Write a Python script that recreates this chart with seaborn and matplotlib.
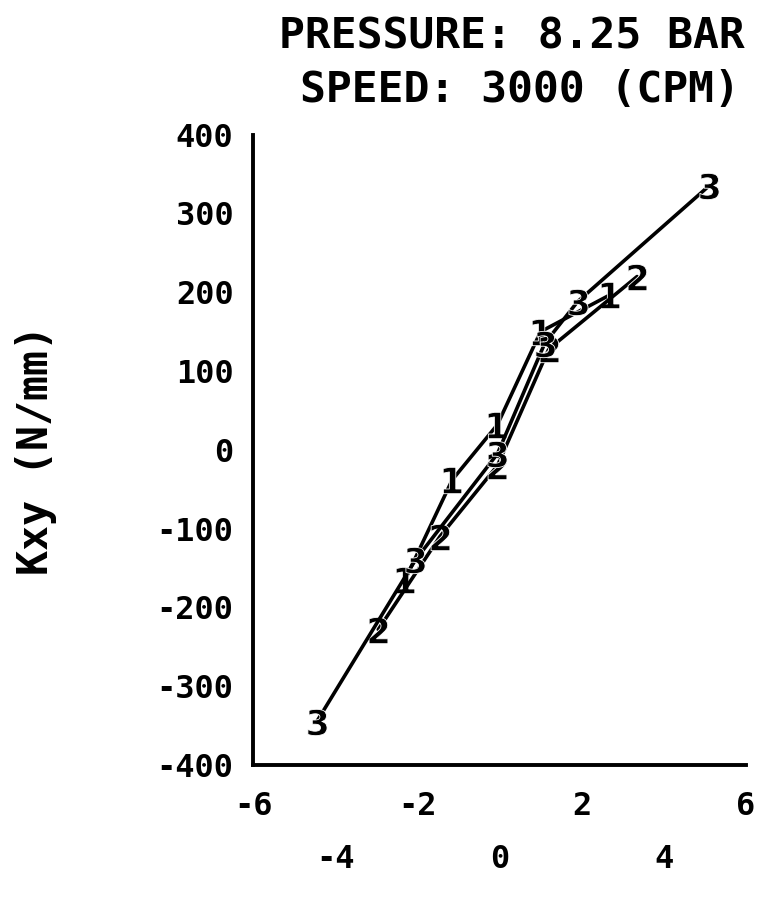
import pandas as pd
import numpy as np
import matplotlib
matplotlib.use('Agg')
import matplotlib.pyplot as plt
import seaborn as sns

# Data (x unit unknown, Kxy in N/mm)
x1 = [-2.3, -1.15, -0.05, 1.0, 2.7]
y1 = [-165, -38, 32, 150, 197]
x2 = [-2.95, -1.45, -0.05, 1.2, 3.35]
y2 = [-228, -110, -20, 128, 220]
x3 = [-4.45, -2.05, -0.05, 1.1, 1.9, 5.1]
y3 = [-345, -140, -5, 135, 188, 335]

xticks_top = [-6, -2, 2, 6]
xticks_bottom = [-4, 0, 4]
yticks = [-400, -300, -200, -100, 0, 100, 200, 300, 400]

title_lines = ['PRESSURE: 8.25 BAR', 'SPEED: 3000 (CPM)']
ylabel = 'Kxy (N/mm)'

df = pd.concat([
    pd.DataFrame({'x': x1, 'y': y1, 'series': '1'}),
    pd.DataFrame({'x': x2, 'y': y2, 'series': '2'}),
    pd.DataFrame({'x': x3, 'y': y3, 'series': '3'}),
], ignore_index=True)

sns.set_style('white')
plt.rcParams['font.family'] = ['DejaVu Sans Mono']
plt.rcParams['font.weight'] = 'bold'
plt.rcParams['text.color'] = 'black'
plt.rcParams['axes.labelcolor'] = 'black'
plt.rcParams['xtick.color'] = 'black'
plt.rcParams['ytick.color'] = 'black'

fig = plt.figure(figsize=(7.69, 8.98), dpi=100)
ax = fig.add_axes([0.329, 0.148, 0.641, 0.702])

sns.lineplot(data=df, x='x', y='y', hue='series', style='series',
             markers={'1': '$1$', '2': '$2$', '3': '$3$'}, dashes=False,
             palette=['black', 'black', 'black'], sort=False, estimator=None,
             legend=False, linewidth=2.6, markersize=19, markeredgewidth=0.6,
             ax=ax)

ax.set_xlim(-6, 6)
ax.set_ylim(-400, 400)
ax.set_xticks(xticks_top)
ax.set_xticklabels([str(v) for v in xticks_top])
ax.set_xticks(xticks_bottom, minor=True)
ax.set_xticklabels([str(v) for v in xticks_bottom], minor=True)
ax.set_yticks(yticks)
ax.set_yticklabels([str(v) for v in yticks])

for s in ['top', 'right']:
    ax.spines[s].set_visible(False)
for s in ['left', 'bottom']:
    ax.spines[s].set_linewidth(2.8)
    ax.spines[s].set_color('black')

ax.tick_params(axis='both', which='both', direction='out', width=2.4,
               labelsize=23)
ax.tick_params(axis='x', which='major', length=11, pad=8)
ax.tick_params(axis='x', which='minor', length=11, pad=46)
ax.tick_params(axis='y', length=11, pad=3)
ax.set_xlabel('')
ax.set_ylabel(ylabel, fontsize=30, fontweight='bold', color='black')
ax.yaxis.set_label_coords(-0.398, 0.5)

fig.text(0.969, 0.959, title_lines[0], ha='right', va='center', fontsize=31)
fig.text(0.962, 0.900, title_lines[1], ha='right', va='center', fontsize=31)

fig.savefig('out.png', dpi=100)
